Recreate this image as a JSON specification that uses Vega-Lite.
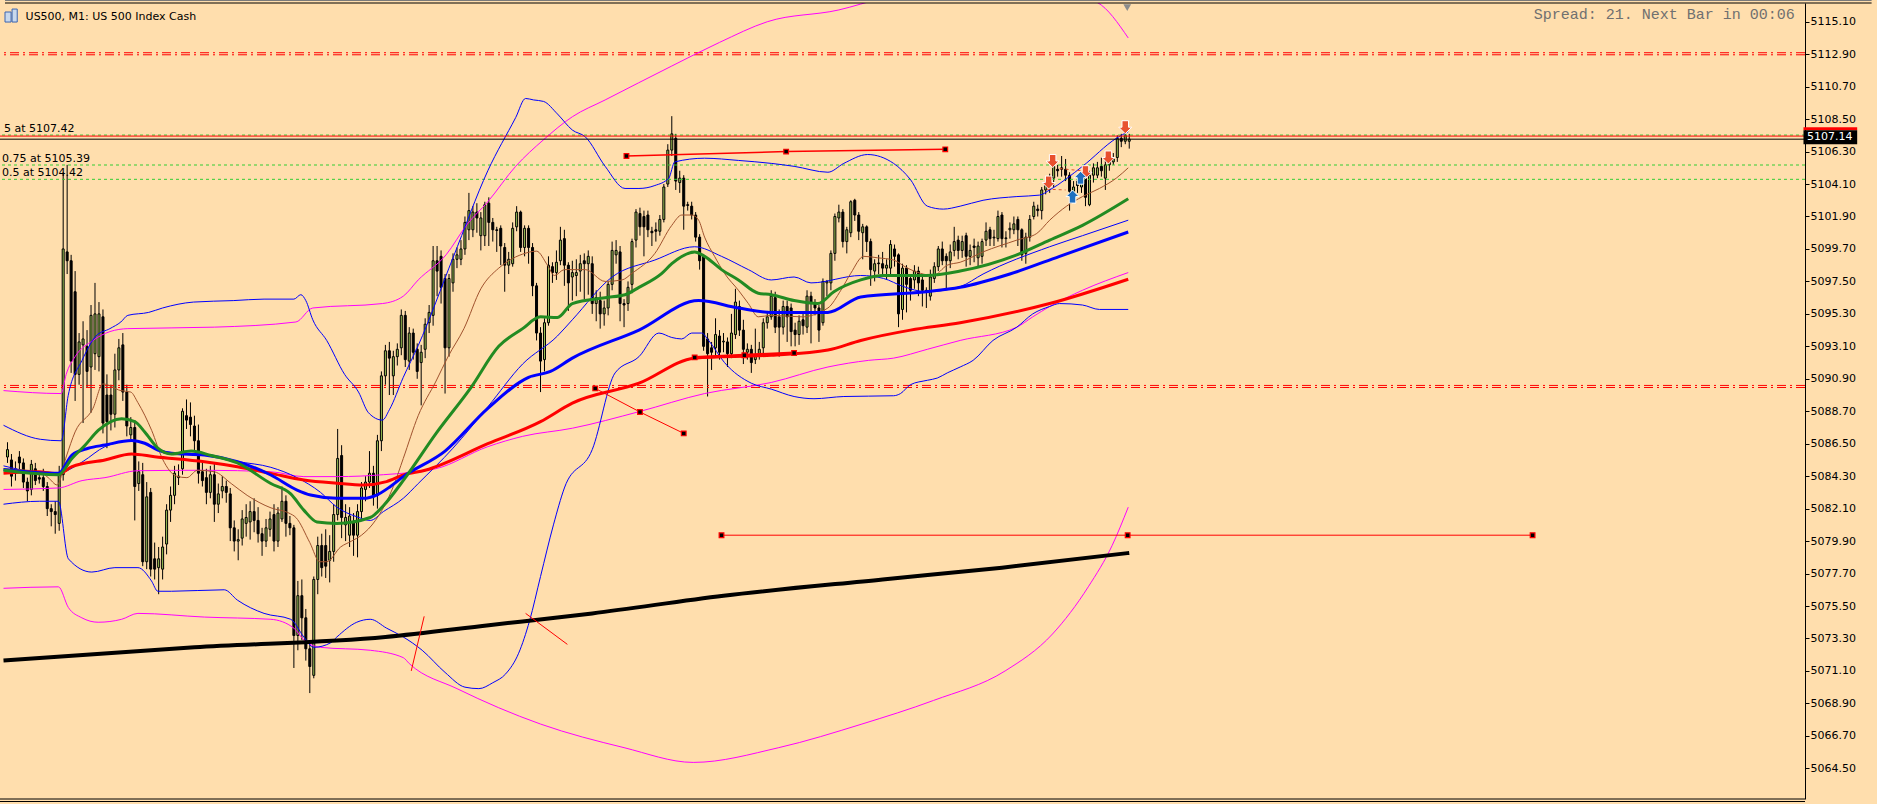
{
"$schema":"https://vega.github.io/schema/vega-lite/v6.json",
"width":1805,"height":796,
"autosize":{"type":"none"},
"padding":{"left":0,"top":3,"right":72,"bottom":5},
"background":"#FFDEAD",
"config":{"view":{"stroke":null},"axis":{"grid":false,"domain":true,"ticks":true,"domainColor":"#000000","domainWidth":1,"tickColor":"#000000","tickSize":4,"tickWidth":1,"labelColor":"#000000","labelFont":"DejaVu Sans","labelFontSize":11,"labelPadding":1,"labelFlush":false,"labelOverlap":false,"labelBaseline":"middle"}},
"datasets":{
"candles":[
{"i":0,"o":5085.6,"h":5086.6,"l":5085.2,"c":5086.1},
{"i":1,"o":5085.4,"h":5085.8,"l":5083.6,"c":5084.3},
{"i":2,"o":5084.5,"h":5085.3,"l":5084.0,"c":5084.8},
{"i":3,"o":5085.6,"h":5086.0,"l":5084.6,"c":5085.2},
{"i":4,"o":5085.2,"h":5085.5,"l":5083.5,"c":5083.9},
{"i":5,"o":5083.9,"h":5084.2,"l":5082.6,"c":5083.3},
{"i":6,"o":5083.4,"h":5085.4,"l":5083.0,"c":5085.1},
{"i":7,"o":5084.8,"h":5085.2,"l":5083.7,"c":5084.0},
{"i":8,"o":5084.2,"h":5084.6,"l":5083.8,"c":5084.1},
{"i":9,"o":5084.2,"h":5084.8,"l":5083.3,"c":5083.6},
{"i":10,"o":5083.6,"h":5083.9,"l":5081.6,"c":5082.1},
{"i":11,"o":5082.1,"h":5082.4,"l":5080.9,"c":5081.9},
{"i":12,"o":5081.9,"h":5082.6,"l":5080.4,"c":5081.7},
{"i":13,"o":5081.1,"h":5085.0,"l":5080.6,"c":5084.4},
{"i":14,"o":5084.4,"h":5104.9,"l":5084.0,"c":5099.7},
{"i":15,"o":5099.5,"h":5105.4,"l":5098.0,"c":5098.9},
{"i":16,"o":5098.9,"h":5099.3,"l":5091.3,"c":5092.1},
{"i":17,"o":5096.8,"h":5098.2,"l":5089.4,"c":5091.2},
{"i":18,"o":5091.2,"h":5094.0,"l":5090.5,"c":5093.4},
{"i":19,"o":5093.2,"h":5094.8,"l":5087.9,"c":5093.6},
{"i":20,"o":5093.1,"h":5094.2,"l":5090.3,"c":5091.4},
{"i":21,"o":5091.7,"h":5095.9,"l":5088.6,"c":5095.2},
{"i":22,"o":5092.6,"h":5097.4,"l":5091.5,"c":5095.3},
{"i":23,"o":5092.4,"h":5096.1,"l":5091.4,"c":5095.3},
{"i":24,"o":5095.1,"h":5095.6,"l":5087.2,"c":5087.9},
{"i":25,"o":5089.8,"h":5091.2,"l":5086.2,"c":5088.0},
{"i":26,"o":5089.8,"h":5090.5,"l":5087.4,"c":5088.5},
{"i":27,"o":5088.5,"h":5092.6,"l":5087.6,"c":5091.5},
{"i":28,"o":5091.5,"h":5093.6,"l":5090.8,"c":5093.0},
{"i":29,"o":5093.2,"h":5094.0,"l":5089.4,"c":5090.0},
{"i":30,"o":5090.0,"h":5090.5,"l":5087.0,"c":5087.7},
{"i":31,"o":5087.1,"h":5088.3,"l":5086.8,"c":5087.6},
{"i":32,"o":5087.6,"h":5088.1,"l":5081.3,"c":5083.6},
{"i":33,"o":5083.8,"h":5085.3,"l":5083.3,"c":5084.6},
{"i":34,"o":5084.4,"h":5085.2,"l":5078.2,"c":5078.5},
{"i":35,"o":5078.5,"h":5083.9,"l":5078.0,"c":5082.9},
{"i":36,"o":5083.2,"h":5083.5,"l":5077.5,"c":5078.0},
{"i":37,"o":5078.7,"h":5079.8,"l":5077.3,"c":5078.0},
{"i":38,"o":5078.1,"h":5079.5,"l":5076.3,"c":5078.7},
{"i":39,"o":5078.0,"h":5080.2,"l":5077.3,"c":5079.5},
{"i":40,"o":5079.7,"h":5082.4,"l":5079.0,"c":5082.0},
{"i":41,"o":5082.0,"h":5083.6,"l":5081.2,"c":5083.0},
{"i":42,"o":5083.0,"h":5085.0,"l":5082.4,"c":5084.5},
{"i":43,"o":5084.2,"h":5085.1,"l":5083.7,"c":5084.3},
{"i":44,"o":5084.8,"h":5088.9,"l":5084.4,"c":5088.7},
{"i":45,"o":5088.4,"h":5089.5,"l":5087.5,"c":5088.1},
{"i":46,"o":5088.3,"h":5089.3,"l":5087.0,"c":5087.8},
{"i":47,"o":5087.7,"h":5088.4,"l":5086.0,"c":5086.7},
{"i":48,"o":5086.7,"h":5087.8,"l":5083.8,"c":5084.5},
{"i":49,"o":5084.6,"h":5085.2,"l":5083.6,"c":5084.0},
{"i":50,"o":5084.2,"h":5084.8,"l":5082.4,"c":5083.2},
{"i":51,"o":5083.2,"h":5085.0,"l":5082.8,"c":5084.4},
{"i":52,"o":5084.4,"h":5085.2,"l":5081.2,"c":5082.4},
{"i":53,"o":5082.4,"h":5083.8,"l":5081.8,"c":5083.1},
{"i":54,"o":5083.3,"h":5084.3,"l":5082.8,"c":5083.6},
{"i":55,"o":5083.6,"h":5084.0,"l":5082.5,"c":5083.2},
{"i":56,"o":5083.1,"h":5083.5,"l":5079.9,"c":5080.8},
{"i":57,"o":5080.8,"h":5081.3,"l":5079.2,"c":5079.9},
{"i":58,"o":5079.9,"h":5080.7,"l":5078.6,"c":5080.0},
{"i":59,"o":5080.1,"h":5082.0,"l":5079.6,"c":5081.4},
{"i":60,"o":5081.1,"h":5082.4,"l":5080.2,"c":5081.5},
{"i":61,"o":5081.2,"h":5082.6,"l":5080.0,"c":5081.9},
{"i":62,"o":5081.9,"h":5082.8,"l":5080.5,"c":5081.3},
{"i":63,"o":5081.3,"h":5082.2,"l":5079.8,"c":5080.4},
{"i":64,"o":5080.4,"h":5080.8,"l":5078.9,"c":5079.9},
{"i":65,"o":5079.9,"h":5081.4,"l":5079.5,"c":5080.8},
{"i":66,"o":5080.7,"h":5081.9,"l":5080.2,"c":5081.4},
{"i":67,"o":5081.7,"h":5082.4,"l":5079.2,"c":5079.9},
{"i":68,"o":5079.9,"h":5082.2,"l":5079.5,"c":5081.8},
{"i":69,"o":5081.4,"h":5083.6,"l":5081.2,"c":5082.6},
{"i":70,"o":5082.6,"h":5083.0,"l":5080.2,"c":5081.1},
{"i":71,"o":5081.1,"h":5081.6,"l":5080.3,"c":5080.8},
{"i":72,"o":5080.8,"h":5081.0,"l":5071.3,"c":5073.5},
{"i":73,"o":5073.5,"h":5077.2,"l":5072.5,"c":5076.2},
{"i":74,"o":5076.2,"h":5077.3,"l":5073.2,"c":5074.7},
{"i":75,"o":5074.7,"h":5075.3,"l":5071.8,"c":5072.6},
{"i":76,"o":5072.6,"h":5073.0,"l":5069.6,"c":5071.4},
{"i":77,"o":5070.8,"h":5077.5,"l":5070.6,"c":5077.3},
{"i":78,"o":5077.3,"h":5080.2,"l":5076.3,"c":5079.6},
{"i":79,"o":5079.6,"h":5080.4,"l":5077.5,"c":5078.1},
{"i":80,"o":5079.6,"h":5080.7,"l":5077.4,"c":5078.2},
{"i":81,"o":5078.6,"h":5080.3,"l":5077.1,"c":5079.2},
{"i":82,"o":5079.2,"h":5082.4,"l":5078.5,"c":5081.7},
{"i":83,"o":5081.7,"h":5087.5,"l":5081.3,"c":5085.5},
{"i":84,"o":5085.7,"h":5086.4,"l":5080.1,"c":5081.5},
{"i":85,"o":5081.0,"h":5082.4,"l":5079.9,"c":5081.5},
{"i":86,"o":5080.3,"h":5082.2,"l":5079.5,"c":5081.6},
{"i":87,"o":5081.2,"h":5081.8,"l":5078.9,"c":5080.3},
{"i":88,"o":5080.3,"h":5082.4,"l":5078.8,"c":5081.9},
{"i":89,"o":5081.9,"h":5083.9,"l":5081.4,"c":5083.5},
{"i":90,"o":5083.4,"h":5084.3,"l":5082.6,"c":5083.9},
{"i":91,"o":5083.9,"h":5086.0,"l":5083.5,"c":5084.5},
{"i":92,"o":5084.5,"h":5085.0,"l":5082.3,"c":5082.9},
{"i":93,"o":5083.0,"h":5087.1,"l":5082.1,"c":5086.7},
{"i":94,"o":5086.7,"h":5091.4,"l":5086.0,"c":5091.1},
{"i":95,"o":5091.1,"h":5093.2,"l":5090.5,"c":5092.8},
{"i":96,"o":5092.8,"h":5093.4,"l":5089.8,"c":5092.3},
{"i":97,"o":5091.1,"h":5092.8,"l":5089.8,"c":5092.4},
{"i":98,"o":5092.4,"h":5093.3,"l":5091.8,"c":5092.9},
{"i":99,"o":5093.0,"h":5095.6,"l":5092.5,"c":5095.2},
{"i":100,"o":5095.2,"h":5095.5,"l":5091.7,"c":5092.2},
{"i":101,"o":5092.1,"h":5094.4,"l":5091.5,"c":5094.0},
{"i":102,"o":5094.0,"h":5094.3,"l":5092.2,"c":5092.7},
{"i":103,"o":5092.9,"h":5093.3,"l":5090.9,"c":5091.4},
{"i":104,"o":5092.0,"h":5093.2,"l":5089.1,"c":5092.7},
{"i":105,"o":5092.9,"h":5095.0,"l":5092.3,"c":5094.6},
{"i":106,"o":5094.7,"h":5095.9,"l":5094.0,"c":5095.4},
{"i":107,"o":5095.2,"h":5099.9,"l":5094.5,"c":5098.9},
{"i":108,"o":5098.9,"h":5099.9,"l":5096.5,"c":5098.2},
{"i":109,"o":5099.2,"h":5099.6,"l":5096.0,"c":5097.1},
{"i":110,"o":5097.7,"h":5098.0,"l":5089.9,"c":5093.0},
{"i":111,"o":5093.0,"h":5098.0,"l":5092.4,"c":5097.7},
{"i":112,"o":5097.4,"h":5099.4,"l":5096.8,"c":5099.0},
{"i":113,"o":5099.0,"h":5099.8,"l":5098.4,"c":5099.3},
{"i":114,"o":5099.0,"h":5100.3,"l":5098.6,"c":5099.7},
{"i":115,"o":5099.7,"h":5101.9,"l":5099.3,"c":5101.5},
{"i":116,"o":5101.0,"h":5103.5,"l":5100.3,"c":5102.3},
{"i":117,"o":5101.0,"h":5102.6,"l":5100.5,"c":5102.2},
{"i":118,"o":5102.2,"h":5102.8,"l":5100.8,"c":5101.8},
{"i":119,"o":5100.6,"h":5102.2,"l":5099.6,"c":5101.8},
{"i":120,"o":5100.6,"h":5102.9,"l":5099.9,"c":5102.7},
{"i":121,"o":5102.8,"h":5103.2,"l":5099.9,"c":5101.5},
{"i":122,"o":5101.5,"h":5101.8,"l":5100.2,"c":5101.0},
{"i":123,"o":5101.0,"h":5101.2,"l":5099.5,"c":5100.95},
{"i":124,"o":5101.1,"h":5101.3,"l":5098.6,"c":5099.9},
{"i":125,"o":5099.8,"h":5100.1,"l":5096.8,"c":5098.6},
{"i":126,"o":5098.6,"h":5099.5,"l":5098.0,"c":5099.0},
{"i":127,"o":5098.7,"h":5101.5,"l":5098.5,"c":5101.1},
{"i":128,"o":5101.2,"h":5102.6,"l":5100.9,"c":5102.2},
{"i":129,"o":5102.2,"h":5102.3,"l":5099.5,"c":5099.8},
{"i":130,"o":5099.8,"h":5101.3,"l":5099.2,"c":5101.1},
{"i":131,"o":5101.1,"h":5101.3,"l":5098.7,"c":5099.8},
{"i":132,"o":5099.8,"h":5100.1,"l":5096.5,"c":5097.2},
{"i":133,"o":5097.2,"h":5097.4,"l":5093.5,"c":5094.0},
{"i":134,"o":5094.0,"h":5094.4,"l":5090.0,"c":5092.1},
{"i":135,"o":5092.2,"h":5095.0,"l":5091.4,"c":5094.7},
{"i":136,"o":5094.7,"h":5099.2,"l":5094.5,"c":5098.6},
{"i":137,"o":5098.5,"h":5098.8,"l":5097.4,"c":5098.1},
{"i":138,"o":5098.1,"h":5099.6,"l":5097.6,"c":5098.8},
{"i":139,"o":5098.9,"h":5101.2,"l":5098.6,"c":5100.3},
{"i":140,"o":5100.4,"h":5101.0,"l":5097.2,"c":5098.6},
{"i":141,"o":5098.6,"h":5098.8,"l":5095.5,"c":5097.4},
{"i":142,"o":5097.8,"h":5098.9,"l":5096.2,"c":5098.1},
{"i":143,"o":5097.9,"h":5099.0,"l":5096.5,"c":5098.1},
{"i":144,"o":5098.2,"h":5099.3,"l":5096.8,"c":5098.7},
{"i":145,"o":5098.9,"h":5099.4,"l":5096.3,"c":5098.7},
{"i":146,"o":5098.7,"h":5099.6,"l":5096.6,"c":5099.2},
{"i":147,"o":5098.7,"h":5099.2,"l":5095.3,"c":5096.0},
{"i":148,"o":5096.0,"h":5096.9,"l":5094.8,"c":5096.4},
{"i":149,"o":5096.2,"h":5096.8,"l":5094.3,"c":5095.3},
{"i":150,"o":5095.3,"h":5096.2,"l":5094.5,"c":5095.7},
{"i":151,"o":5095.7,"h":5097.5,"l":5095.2,"c":5097.3},
{"i":152,"o":5097.3,"h":5100.2,"l":5096.9,"c":5099.6},
{"i":153,"o":5099.3,"h":5100.3,"l":5098.7,"c":5099.6},
{"i":154,"o":5099.5,"h":5099.9,"l":5094.8,"c":5096.0},
{"i":155,"o":5096.0,"h":5096.3,"l":5094.4,"c":5095.9},
{"i":156,"o":5096.0,"h":5097.5,"l":5095.5,"c":5097.1},
{"i":157,"o":5097.3,"h":5100.4,"l":5096.7,"c":5100.2},
{"i":158,"o":5100.3,"h":5102.4,"l":5099.8,"c":5102.2},
{"i":159,"o":5102.1,"h":5102.5,"l":5100.6,"c":5101.2},
{"i":160,"o":5101.9,"h":5102.3,"l":5099.2,"c":5101.2},
{"i":161,"o":5102.0,"h":5102.3,"l":5100.5,"c":5101.0},
{"i":162,"o":5100.9,"h":5101.2,"l":5099.9,"c":5100.8},
{"i":163,"o":5101.0,"h":5101.5,"l":5100.2,"c":5100.9},
{"i":164,"o":5100.9,"h":5102.0,"l":5100.6,"c":5101.7},
{"i":165,"o":5101.7,"h":5104.1,"l":5101.5,"c":5103.9},
{"i":166,"o":5104.1,"h":5106.8,"l":5103.9,"c":5106.4},
{"i":167,"o":5106.4,"h":5108.7,"l":5106.0,"c":5107.5},
{"i":168,"o":5107.2,"h":5107.5,"l":5103.7,"c":5104.3},
{"i":169,"o":5104.2,"h":5105.0,"l":5103.5,"c":5104.5},
{"i":170,"o":5104.5,"h":5104.7,"l":5101.0,"c":5102.6},
{"i":171,"o":5102.7,"h":5102.9,"l":5102.3,"c":5102.65},
{"i":172,"o":5102.6,"h":5102.9,"l":5101.7,"c":5102.0},
{"i":173,"o":5102.0,"h":5102.2,"l":5100.2,"c":5100.5},
{"i":174,"o":5100.5,"h":5100.7,"l":5098.3,"c":5098.9},
{"i":175,"o":5099.2,"h":5099.3,"l":5092.8,"c":5093.1},
{"i":176,"o":5093.6,"h":5094.0,"l":5089.7,"c":5092.6},
{"i":177,"o":5093.0,"h":5093.4,"l":5091.5,"c":5092.7},
{"i":178,"o":5093.0,"h":5095.0,"l":5092.5,"c":5093.9},
{"i":179,"o":5093.8,"h":5094.2,"l":5092.2,"c":5092.7},
{"i":180,"o":5093.4,"h":5094.0,"l":5092.7,"c":5093.45},
{"i":181,"o":5093.4,"h":5093.7,"l":5091.7,"c":5092.6},
{"i":182,"o":5092.6,"h":5095.3,"l":5092.3,"c":5094.0},
{"i":183,"o":5093.9,"h":5097.0,"l":5093.6,"c":5096.1},
{"i":184,"o":5095.8,"h":5096.2,"l":5093.8,"c":5094.2},
{"i":185,"o":5094.2,"h":5094.9,"l":5091.9,"c":5092.9},
{"i":186,"o":5092.7,"h":5093.3,"l":5092.2,"c":5092.9},
{"i":187,"o":5092.9,"h":5093.2,"l":5091.3,"c":5092.0},
{"i":188,"o":5092.2,"h":5094.3,"l":5091.9,"c":5092.5},
{"i":189,"o":5092.5,"h":5093.4,"l":5092.2,"c":5092.9},
{"i":190,"o":5093.0,"h":5095.0,"l":5092.6,"c":5094.7},
{"i":191,"o":5094.7,"h":5095.5,"l":5094.3,"c":5095.1},
{"i":192,"o":5095.1,"h":5096.9,"l":5094.9,"c":5096.5},
{"i":193,"o":5096.4,"h":5096.8,"l":5094.0,"c":5094.4},
{"i":194,"o":5095.1,"h":5095.6,"l":5092.4,"c":5094.4},
{"i":195,"o":5094.4,"h":5096.2,"l":5093.9,"c":5095.8},
{"i":196,"o":5095.8,"h":5096.2,"l":5093.4,"c":5095.1},
{"i":197,"o":5095.7,"h":5096.0,"l":5093.1,"c":5094.1},
{"i":198,"o":5094.2,"h":5094.7,"l":5093.1,"c":5093.9},
{"i":199,"o":5093.9,"h":5095.2,"l":5093.2,"c":5094.8},
{"i":200,"o":5094.9,"h":5095.3,"l":5093.9,"c":5094.5},
{"i":201,"o":5094.4,"h":5096.9,"l":5094.0,"c":5096.5},
{"i":202,"o":5096.5,"h":5096.8,"l":5093.3,"c":5096.1},
{"i":203,"o":5096.0,"h":5096.3,"l":5095.2,"c":5095.7},
{"i":204,"o":5095.7,"h":5095.9,"l":5093.4,"c":5094.2},
{"i":205,"o":5094.7,"h":5097.7,"l":5094.5,"c":5097.5},
{"i":206,"o":5097.4,"h":5097.6,"l":5096.5,"c":5097.5},
{"i":207,"o":5097.4,"h":5099.6,"l":5096.9,"c":5099.4},
{"i":208,"o":5099.4,"h":5102.1,"l":5098.9,"c":5101.9},
{"i":209,"o":5101.8,"h":5102.7,"l":5101.5,"c":5102.2},
{"i":210,"o":5102.2,"h":5102.4,"l":5099.8,"c":5100.2},
{"i":211,"o":5100.2,"h":5101.2,"l":5099.4,"c":5101.0},
{"i":212,"o":5100.8,"h":5103.0,"l":5100.5,"c":5102.9},
{"i":213,"o":5103.0,"h":5103.1,"l":5101.6,"c":5102.0},
{"i":214,"o":5102.0,"h":5102.2,"l":5100.3,"c":5100.9},
{"i":215,"o":5100.8,"h":5101.4,"l":5099.0,"c":5101.2},
{"i":216,"o":5101.2,"h":5101.3,"l":5099.5,"c":5100.2},
{"i":217,"o":5100.2,"h":5100.4,"l":5097.2,"c":5098.3},
{"i":218,"o":5098.2,"h":5099.0,"l":5097.5,"c":5098.7},
{"i":219,"o":5098.75,"h":5099.3,"l":5098.0,"c":5098.7},
{"i":220,"o":5098.7,"h":5099.5,"l":5097.9,"c":5098.4},
{"i":221,"o":5098.4,"h":5099.0,"l":5097.6,"c":5098.6},
{"i":222,"o":5098.4,"h":5100.3,"l":5097.8,"c":5100.0},
{"i":223,"o":5099.7,"h":5100.0,"l":5098.5,"c":5099.2},
{"i":224,"o":5099.3,"h":5099.4,"l":5094.4,"c":5095.3},
{"i":225,"o":5095.6,"h":5098.7,"l":5094.9,"c":5098.4},
{"i":226,"o":5098.4,"h":5098.6,"l":5095.4,"c":5097.3},
{"i":227,"o":5097.7,"h":5098.0,"l":5096.2,"c":5096.9},
{"i":228,"o":5097.6,"h":5098.6,"l":5097.0,"c":5098.2},
{"i":229,"o":5098.2,"h":5098.5,"l":5096.5,"c":5097.4},
{"i":230,"o":5097.6,"h":5097.8,"l":5095.8,"c":5096.9},
{"i":231,"o":5096.9,"h":5097.1,"l":5095.7,"c":5096.8},
{"i":232,"o":5096.5,"h":5098.3,"l":5096.2,"c":5097.8},
{"i":233,"o":5097.7,"h":5098.8,"l":5097.4,"c":5098.5},
{"i":234,"o":5098.5,"h":5099.9,"l":5098.2,"c":5099.7},
{"i":235,"o":5099.7,"h":5100.2,"l":5098.6,"c":5098.9},
{"i":236,"o":5099.2,"h":5099.4,"l":5097.0,"c":5098.9},
{"i":237,"o":5098.9,"h":5100.0,"l":5098.4,"c":5099.5},
{"i":238,"o":5099.6,"h":5101.2,"l":5099.2,"c":5100.2},
{"i":239,"o":5100.3,"h":5100.6,"l":5099.0,"c":5099.6},
{"i":240,"o":5099.6,"h":5100.6,"l":5099.1,"c":5100.2},
{"i":241,"o":5100.6,"h":5100.8,"l":5098.5,"c":5099.2},
{"i":242,"o":5099.2,"h":5100.0,"l":5098.6,"c":5099.6},
{"i":243,"o":5099.9,"h":5100.4,"l":5098.8,"c":5099.8},
{"i":244,"o":5099.1,"h":5100.2,"l":5098.5,"c":5099.9},
{"i":245,"o":5099.2,"h":5100.4,"l":5098.7,"c":5100.2},
{"i":246,"o":5100.3,"h":5101.5,"l":5099.9,"c":5100.9},
{"i":247,"o":5101.0,"h":5101.2,"l":5099.9,"c":5100.4},
{"i":248,"o":5100.45,"h":5101.0,"l":5099.9,"c":5100.5},
{"i":249,"o":5100.4,"h":5102.3,"l":5100.2,"c":5101.9},
{"i":250,"o":5102.0,"h":5102.2,"l":5099.8,"c":5100.4},
{"i":251,"o":5100.4,"h":5100.9,"l":5099.8,"c":5100.45},
{"i":252,"o":5101.0,"h":5101.5,"l":5100.4,"c":5101.1},
{"i":253,"o":5101.0,"h":5101.9,"l":5100.7,"c":5101.4},
{"i":254,"o":5101.7,"h":5101.9,"l":5099.9,"c":5101.0},
{"i":255,"o":5101.0,"h":5101.1,"l":5098.9,"c":5099.3},
{"i":256,"o":5099.4,"h":5100.8,"l":5098.7,"c":5100.5},
{"i":257,"o":5100.5,"h":5102.0,"l":5100.2,"c":5101.7},
{"i":258,"o":5101.9,"h":5102.9,"l":5101.7,"c":5102.6},
{"i":259,"o":5102.4,"h":5102.7,"l":5101.9,"c":5102.3},
{"i":260,"o":5102.3,"h":5103.9,"l":5101.7,"c":5103.7},
{"i":261,"o":5103.7,"h":5104.3,"l":5103.4,"c":5104.0},
{"i":262,"o":5104.0,"h":5104.8,"l":5103.5,"c":5104.4},
{"i":263,"o":5104.5,"h":5105.5,"l":5103.9,"c":5105.3},
{"i":264,"o":5105.1,"h":5105.4,"l":5104.6,"c":5105.0},
{"i":265,"o":5105.2,"h":5106.0,"l":5104.6,"c":5105.1},
{"i":266,"o":5105.1,"h":5105.8,"l":5104.3,"c":5104.7},
{"i":267,"o":5104.7,"h":5104.9,"l":5102.3,"c":5103.6},
{"i":268,"o":5103.6,"h":5104.3,"l":5102.9,"c":5103.9},
{"i":269,"o":5104.3,"h":5104.7,"l":5103.5,"c":5104.0},
{"i":270,"o":5103.9,"h":5104.6,"l":5103.5,"c":5104.3},
{"i":271,"o":5104.6,"h":5104.8,"l":5102.6,"c":5103.2},
{"i":272,"o":5102.7,"h":5105.0,"l":5102.6,"c":5104.7},
{"i":273,"o":5104.7,"h":5105.5,"l":5104.2,"c":5105.2},
{"i":274,"o":5104.7,"h":5105.6,"l":5104.5,"c":5105.2},
{"i":275,"o":5105.3,"h":5105.9,"l":5104.6,"c":5105.0},
{"i":276,"o":5104.5,"h":5105.8,"l":5103.7,"c":5105.4},
{"i":277,"o":5105.4,"h":5106.0,"l":5105.0,"c":5105.6},
{"i":278,"o":5105.6,"h":5106.2,"l":5105.4,"c":5105.8},
{"i":279,"o":5105.9,"h":5107.4,"l":5105.6,"c":5107.2},
{"i":280,"o":5107.2,"h":5107.5,"l":5106.6,"c":5107.0},
{"i":281,"o":5107.0,"h":5107.8,"l":5106.8,"c":5107.4},
{"i":282,"o":5107.0,"h":5107.5,"l":5106.5,"c":5107.14}
],
"ma_black":[{"i":-1,"v":5071.8},{"i":47,"v":5072.7},{"i":95,"v":5073.4},{"i":121,"v":5074.2},{"i":147,"v":5075.0},{"i":180,"v":5076.2},{"i":220,"v":5077.3},{"i":250,"v":5078.1},{"i":282,"v":5079.1}],
"ma_red":[{"i":-1,"v":5084.5},{"i":7.8,"v":5084.6},{"i":12.8,"v":5084.45},{"i":16.2,"v":5084.94},{"i":24.5,"v":5085.4},{"i":31.2,"v":5085.8},{"i":37,"v":5085.62},{"i":49.5,"v":5085.28},{"i":57.8,"v":5084.94},{"i":66.2,"v":5084.49},{"i":74.5,"v":5084.04},{"i":82.8,"v":5083.82},{"i":89.5,"v":5083.7},{"i":95.3,"v":5083.93},{"i":99.5,"v":5084.38},{"i":105,"v":5084.7},{"i":120.75,"v":5086.5},{"i":134,"v":5088.0},{"i":142,"v":5089.25},{"i":158.75,"v":5090.6},{"i":172.75,"v":5092.3},{"i":192,"v":5092.5},{"i":206.25,"v":5092.85},{"i":214.5,"v":5093.5},{"i":227,"v":5094.2},{"i":239.5,"v":5094.7},{"i":262,"v":5096.0},{"i":281.75,"v":5097.65}],
"ma_blue":[{"i":-1,"v":5084.76},{"i":12.8,"v":5084.49},{"i":16.2,"v":5085.73},{"i":20.3,"v":5086.19},{"i":24.5,"v":5086.41},{"i":31.2,"v":5086.71},{"i":34.5,"v":5086.53},{"i":37.8,"v":5086.07},{"i":41.2,"v":5085.85},{"i":49.5,"v":5085.73},{"i":57.8,"v":5085.28},{"i":66.2,"v":5084.38},{"i":72.8,"v":5083.36},{"i":76.2,"v":5083.02},{"i":82.8,"v":5082.8},{"i":89.5,"v":5082.8},{"i":92.8,"v":5083.02},{"i":96.2,"v":5083.59},{"i":99.5,"v":5084.27},{"i":110,"v":5086.0},{"i":120.75,"v":5088.9},{"i":131,"v":5091.0},{"i":136.5,"v":5091.4},{"i":142,"v":5092.3},{"i":158.75,"v":5094.2},{"i":173.75,"v":5096.2},{"i":183.75,"v":5095.7},{"i":192,"v":5095.4},{"i":206.25,"v":5095.4},{"i":214.5,"v":5096.45},{"i":231,"v":5096.8},{"i":239.5,"v":5097.1},{"i":252,"v":5098.0},{"i":264.5,"v":5099.2},{"i":281.75,"v":5100.85}],
"ma_green":[{"i":-1,"v":5084.7},{"i":12.8,"v":5084.4},{"i":16.2,"v":5085.5},{"i":19.5,"v":5086.4},{"i":22.8,"v":5087.4},{"i":28.7,"v":5088.2},{"i":32,"v":5088.0},{"i":34.5,"v":5087.3},{"i":37.8,"v":5086.2},{"i":41.2,"v":5085.8},{"i":46.2,"v":5086.0},{"i":51.2,"v":5085.7},{"i":57.8,"v":5085.2},{"i":66.2,"v":5083.8},{"i":71.2,"v":5083.1},{"i":74.5,"v":5082.0},{"i":77.8,"v":5081.2},{"i":82.8,"v":5081.1},{"i":91.2,"v":5081.5},{"i":94.5,"v":5082.3},{"i":99.75,"v":5084.1},{"i":107.75,"v":5087.2},{"i":116.5,"v":5090.3},{"i":123.5,"v":5093.1},{"i":129.5,"v":5094.3},{"i":134,"v":5095.1},{"i":138.25,"v":5095.05},{"i":142,"v":5096.0},{"i":150.25,"v":5096.4},{"i":155.25,"v":5096.6},{"i":158.75,"v":5097.1},{"i":164.5,"v":5098.05},{"i":167,"v":5098.7},{"i":172.75,"v":5099.5},{"i":175.25,"v":5099.2},{"i":179.5,"v":5098.3},{"i":183.75,"v":5097.6},{"i":188.75,"v":5096.7},{"i":192,"v":5096.6},{"i":197.75,"v":5096.2},{"i":203.75,"v":5096.0},{"i":207.75,"v":5096.8},{"i":214.5,"v":5097.6},{"i":220.25,"v":5097.9},{"i":231,"v":5097.9},{"i":239.5,"v":5098.2},{"i":253.75,"v":5099.3},{"i":262,"v":5100.3},{"i":270.25,"v":5101.3},{"i":281.75,"v":5103.1}],
"bb_mid":[{"i":-1,"v":5085.0},{"i":12.8,"v":5084.4},{"i":14.5,"v":5084.6},{"i":19,"v":5085.3},{"i":24.5,"v":5086.3},{"i":31.2,"v":5086.7},{"i":34.5,"v":5086.5},{"i":41.2,"v":5085.9},{"i":49.5,"v":5085.8},{"i":57.8,"v":5085.3},{"i":66.2,"v":5084.9},{"i":72.8,"v":5084.2},{"i":78.7,"v":5083.2},{"i":82.8,"v":5082.2},{"i":87.8,"v":5081.55},{"i":91.2,"v":5081.3},{"i":94.5,"v":5081.9},{"i":99.5,"v":5082.8},{"i":103.25,"v":5083.8},{"i":112,"v":5086.2},{"i":120.75,"v":5089.0},{"i":129.5,"v":5091.9},{"i":138.25,"v":5093.8},{"i":142,"v":5094.9},{"i":152,"v":5097.8},{"i":162.75,"v":5098.95},{"i":172.75,"v":5099.85},{"i":179.5,"v":5099.2},{"i":186.25,"v":5098.3},{"i":192,"v":5097.6},{"i":197.75,"v":5097.8},{"i":202,"v":5097.4},{"i":214.5,"v":5097.9},{"i":220.25,"v":5097.7},{"i":225.25,"v":5097.15},{"i":231,"v":5096.8},{"i":239.5,"v":5097.15},{"i":245.25,"v":5098.0},{"i":262,"v":5099.85},{"i":270.25,"v":5100.6},{"i":281.75,"v":5101.65}],
"bb_up":[{"i":-1,"v":5087.75},{"i":8.25,"v":5086.8},{"i":13.5,"v":5086.7},{"i":15.25,"v":5089.75},{"i":18.75,"v":5092.15},{"i":22.25,"v":5093.8},{"i":25.75,"v":5094.3},{"i":28.5,"v":5094.75},{"i":30.25,"v":5095.2},{"i":35.5,"v":5095.4},{"i":39,"v":5095.7},{"i":46.75,"v":5096.1},{"i":56.75,"v":5096.2},{"i":64.5,"v":5096.3},{"i":72,"v":5096.3},{"i":73.75,"v":5096.6},{"i":75,"v":5096.2},{"i":76.75,"v":5094.9},{"i":80.25,"v":5093.5},{"i":84.75,"v":5091.2},{"i":88.25,"v":5090.0},{"i":90.75,"v":5088.6},{"i":94.25,"v":5088.1},{"i":96,"v":5088.8},{"i":99.5,"v":5091.0},{"i":103.25,"v":5093.15},{"i":112,"v":5099.1},{"i":120.75,"v":5105.0},{"i":127.75,"v":5108.6},{"i":130.25,"v":5109.9},{"i":132.25,"v":5109.8},{"i":134.75,"v":5109.7},{"i":138.25,"v":5108.85},{"i":142,"v":5107.76},{"i":145.25,"v":5107.3},{"i":150.25,"v":5105.3},{"i":155.25,"v":5103.8},{"i":158.75,"v":5103.8},{"i":162.75,"v":5104.0},{"i":166.25,"v":5104.5},{"i":167.75,"v":5105.6},{"i":175.25,"v":5105.85},{"i":183.75,"v":5105.7},{"i":192,"v":5105.5},{"i":197.75,"v":5105.3},{"i":206.25,"v":5104.9},{"i":210.25,"v":5105.5},{"i":216.25,"v":5106.1},{"i":222.75,"v":5105.5},{"i":227,"v":5104.4},{"i":231.25,"v":5102.6},{"i":235.25,"v":5102.4},{"i":239.5,"v":5102.6},{"i":245.25,"v":5103.0},{"i":253.75,"v":5103.25},{"i":259.5,"v":5103.35},{"i":262,"v":5103.7},{"i":270.25,"v":5105.3},{"i":278.75,"v":5107.2},{"i":281.75,"v":5107.65}],
"bb_lo":[{"i":-1,"v":5082.4},{"i":8,"v":5082.6},{"i":12.8,"v":5082.6},{"i":15.3,"v":5078.7},{"i":21.2,"v":5077.8},{"i":27,"v":5078.1},{"i":32.8,"v":5078.1},{"i":36.2,"v":5077.2},{"i":37.8,"v":5076.5},{"i":41.2,"v":5076.5},{"i":54.5,"v":5076.6},{"i":57.8,"v":5075.9},{"i":64.5,"v":5075.0},{"i":71.2,"v":5074.6},{"i":74.5,"v":5073.4},{"i":77,"v":5072.7},{"i":81.2,"v":5073.0},{"i":82.8,"v":5073.4},{"i":87.8,"v":5074.4},{"i":91.2,"v":5074.6},{"i":95.3,"v":5074.0},{"i":99.5,"v":5073.4},{"i":104.25,"v":5072.5},{"i":110,"v":5071.0},{"i":115,"v":5070.0},{"i":118.5,"v":5069.9},{"i":122,"v":5070.3},{"i":125.25,"v":5070.9},{"i":128.5,"v":5072.3},{"i":131.25,"v":5074.5},{"i":134,"v":5077.5},{"i":137.25,"v":5081.0},{"i":140,"v":5083.5},{"i":147,"v":5086.1},{"i":152.75,"v":5091.3},{"i":158.75,"v":5092.4},{"i":163.75,"v":5094.0},{"i":167,"v":5093.7},{"i":169.5,"v":5093.6},{"i":172,"v":5094.0},{"i":174.5,"v":5094.0},{"i":176.25,"v":5093.5},{"i":180.25,"v":5092.0},{"i":187,"v":5090.6},{"i":192,"v":5090.2},{"i":197.75,"v":5089.7},{"i":202.75,"v":5089.55},{"i":210.25,"v":5089.7},{"i":222.75,"v":5089.75},{"i":224.5,"v":5089.9},{"i":227,"v":5090.5},{"i":231.25,"v":5090.8},{"i":233.75,"v":5090.95},{"i":236.25,"v":5091.3},{"i":239.5,"v":5091.7},{"i":242.75,"v":5092.15},{"i":247.75,"v":5093.5},{"i":253.75,"v":5094.4},{"i":257.75,"v":5095.3},{"i":262,"v":5095.8},{"i":264.5,"v":5096.0},{"i":270.25,"v":5095.9},{"i":274.5,"v":5095.6},{"i":281.75,"v":5095.6}],
"mg_up":[{"i":-1,"v":5090.1},{"i":13.5,"v":5089.9},{"i":14.75,"v":5091.2},{"i":17,"v":5092.4},{"i":21.5,"v":5093.5},{"i":25.75,"v":5094.1},{"i":30.25,"v":5094.3},{"i":52,"v":5094.4},{"i":72.5,"v":5094.75},{"i":76.75,"v":5095.7},{"i":94.25,"v":5096.0},{"i":99.5,"v":5096.5},{"i":103.25,"v":5097.6},{"i":110.25,"v":5099.3},{"i":115.5,"v":5101.35},{"i":120.75,"v":5102.9},{"i":127.75,"v":5105.3},{"i":134.75,"v":5107.1},{"i":142,"v":5108.66},{"i":150.25,"v":5109.8},{"i":167,"v":5112.1},{"i":179,"v":5113.7},{"i":191,"v":5115.1},{"i":209,"v":5115.9},{"i":220,"v":5116.7},{"i":240,"v":5117.6},{"i":260,"v":5117.4},{"i":274,"v":5116.4},{"i":281.75,"v":5114.0}],
"mg_mid":[{"i":-1,"v":5083.4},{"i":12.8,"v":5083.5},{"i":18.75,"v":5084.0},{"i":24.5,"v":5084.2},{"i":32.8,"v":5084.67},{"i":49.5,"v":5084.7},{"i":66.2,"v":5084.6},{"i":74.5,"v":5084.27},{"i":82.8,"v":5084.27},{"i":94.5,"v":5084.4},{"i":107.6,"v":5084.8},{"i":120.75,"v":5086.3},{"i":129.5,"v":5087.0},{"i":142,"v":5087.55},{"i":158.75,"v":5088.67},{"i":175.25,"v":5089.9},{"i":192,"v":5090.65},{"i":206.25,"v":5091.7},{"i":216.5,"v":5092.15},{"i":222.75,"v":5092.3},{"i":231.25,"v":5092.9},{"i":239.5,"v":5093.5},{"i":253.75,"v":5094.4},{"i":257.75,"v":5095.1},{"i":262,"v":5095.8},{"i":270.25,"v":5096.9},{"i":281.75,"v":5098.1}],
"mg_lo":[{"i":-1,"v":5076.7},{"i":12.8,"v":5076.8},{"i":15.3,"v":5075.4},{"i":18.7,"v":5074.7},{"i":22.8,"v":5074.4},{"i":28.7,"v":5074.6},{"i":32.8,"v":5075.0},{"i":49.5,"v":5074.75},{"i":66.2,"v":5074.6},{"i":72,"v":5074.0},{"i":74.5,"v":5073.2},{"i":78.7,"v":5072.7},{"i":91.2,"v":5072.5},{"i":99.5,"v":5072.0},{"i":101,"v":5071.6},{"i":113,"v":5069.9},{"i":134,"v":5067.5},{"i":155,"v":5065.9},{"i":172.4,"v":5064.9},{"i":193.9,"v":5065.9},{"i":214.8,"v":5067.5},{"i":232.8,"v":5069.1},{"i":250.8,"v":5071.1},{"i":262.7,"v":5073.6},{"i":271.7,"v":5076.8},{"i":277.7,"v":5079.6},{"i":281.75,"v":5082.2}],
"brown":[{"i":-1,"v":5084.8},{"i":8,"v":5084.6},{"i":10.25,"v":5084.2},{"i":12.5,"v":5083.7},{"i":14.75,"v":5085.6},{"i":17,"v":5087.3},{"i":21.5,"v":5088.9},{"i":24,"v":5090.55},{"i":28.5,"v":5090.1},{"i":31,"v":5090.0},{"i":32.75,"v":5089.3},{"i":36.25,"v":5087.4},{"i":39,"v":5085.45},{"i":42.5,"v":5084.3},{"i":45.1,"v":5084.2},{"i":47.75,"v":5084.7},{"i":52,"v":5084.6},{"i":56.25,"v":5083.8},{"i":60.25,"v":5083.0},{"i":66.25,"v":5082.15},{"i":70.75,"v":5081.8},{"i":72.5,"v":5081.5},{"i":76,"v":5079.8},{"i":78.5,"v":5078.5},{"i":80.25,"v":5078.5},{"i":83.75,"v":5079.5},{"i":86.5,"v":5079.9},{"i":89,"v":5080.3},{"i":92.5,"v":5081.3},{"i":97,"v":5083.6},{"i":99.5,"v":5085.5},{"i":103.25,"v":5088.4},{"i":107.75,"v":5090.75},{"i":110.75,"v":5092.4},{"i":114.75,"v":5094.3},{"i":119,"v":5097.0},{"i":123.5,"v":5098.4},{"i":126,"v":5098.9},{"i":129.5,"v":5099.35},{"i":133,"v":5099.55},{"i":135.75,"v":5098.6},{"i":137.5,"v":5097.9},{"i":140,"v":5098.3},{"i":145.25,"v":5098.3},{"i":150.25,"v":5097.5},{"i":154.5,"v":5097.6},{"i":157,"v":5098.05},{"i":162.75,"v":5099.4},{"i":167,"v":5101.3},{"i":169.5,"v":5102.0},{"i":172,"v":5102.0},{"i":173.75,"v":5101.65},{"i":175.25,"v":5100.5},{"i":177.75,"v":5099.2},{"i":180.25,"v":5098.05},{"i":183.75,"v":5096.9},{"i":186.25,"v":5096.0},{"i":188.75,"v":5095.1},{"i":192,"v":5095.2},{"i":199.5,"v":5095.1},{"i":206.25,"v":5095.7},{"i":209.5,"v":5096.9},{"i":212,"v":5098.05},{"i":215.25,"v":5099.2},{"i":218.75,"v":5099.1},{"i":222.75,"v":5098.95},{"i":226.25,"v":5098.4},{"i":229.5,"v":5098.05},{"i":232.75,"v":5097.9},{"i":236.25,"v":5098.6},{"i":239.5,"v":5098.8},{"i":245.25,"v":5099.5},{"i":253.75,"v":5100.3},{"i":258.75,"v":5100.75},{"i":262,"v":5101.65},{"i":266.25,"v":5102.6},{"i":270.25,"v":5103.25},{"i":274.5,"v":5103.8},{"i":278.75,"v":5104.5},{"i":281.75,"v":5105.2}],
"obj_top":[{"i":155.6,"v":5106.0},{"i":195.75,"v":5106.3},{"i":235.75,"v":5106.45}],
"obj_ma":[{"i":172.75,"v":5092.35},{"i":185.25,"v":5092.5},{"i":197.75,"v":5092.65}],
"obj_diag":[{"i":147.75,"v":5090.25},{"i":159,"v":5088.65},{"i":170,"v":5087.2}],
"obj_h":[{"i":179.5,"v":5080.3},{"i":281.6,"v":5080.3},{"i":383.4,"v":5080.3}],
"cross1":[{"i":104.75,"v":5074.8},{"i":101.5,"v":5071.1}],
"cross2":[{"i":130.25,"v":5075.0},{"i":140.75,"v":5072.9}],
"dash1":[{"i":261.25,"v":5103.75},{"i":266,"v":5103.7}],
"dash2":[{"i":264.5,"v":5105.15},{"i":270,"v":5105.0}],
"arr_dn":[{"i":261.75,"v":5104.2},{"i":262.75,"v":5105.66},{"i":271,"v":5104.9},{"i":276.75,"v":5105.9},{"i":281,"v":5107.95}],
"arr_up":[{"i":267.75,"v":5103.25},{"i":269.75,"v":5104.53}]
},
"layer":[
{"data":{"name":"candles"},"mark":{"type":"rule","color":"#000000","strokeWidth":1},"encoding":{
 "x":{"field":"i","type":"quantitative","scale":{"domain":[-0.625,450.625],"nice":false,"zero":false},"axis":null},
 "y":{"field":"l","type":"quantitative","scale":{"domain":[5062.42,5116.37],"nice":false,"zero":false},"axis":{"orient":"right","title":null,"format":".2f","values":[5064.5,5066.7,5068.9,5071.1,5073.3,5075.5,5077.7,5079.9,5082.1,5084.3,5086.5,5088.7,5090.9,5093.1,5095.3,5097.5,5099.7,5101.9,5104.1,5106.3,5108.5,5110.7,5112.9,5115.1]}},
 "y2":{"field":"h"}}},
{"data":{"name":"candles"},"mark":{"type":"bar","width":2,"stroke":"#000000","strokeWidth":1},"encoding":{
 "x":{"field":"i","type":"quantitative","scale":{"domain":[-0.625,450.625],"nice":false,"zero":false},"axis":null},
 "y":{"field":"o","type":"quantitative","scale":{"domain":[5062.42,5116.37],"nice":false,"zero":false},"axis":{"orient":"right","title":null,"format":".2f","values":[5064.5,5066.7,5068.9,5071.1,5073.3,5075.5,5077.7,5079.9,5082.1,5084.3,5086.5,5088.7,5090.9,5093.1,5095.3,5097.5,5099.7,5101.9,5104.1,5106.3,5108.5,5110.7,5112.9,5115.1]}},
 "y2":{"field":"c"},
 "fill":{"condition":{"test":"datum.c >= datum.o","value":"#9CC455"},"value":"#000000"}}},
{"data":{"values":[{"v":5107.42},{"v":5105.39},{"v":5104.42}]},"mark":{"type":"rule","color":"#32CD32","strokeWidth":1,"strokeDash":[3,3]},"encoding":{"y":{"field":"v","type":"quantitative","scale":{"domain":[5062.42,5116.37],"nice":false,"zero":false},"axis":{"orient":"right","title":null,"format":".2f","values":[5064.5,5066.7,5068.9,5071.1,5073.3,5075.5,5077.7,5079.9,5082.1,5084.3,5086.5,5088.7,5090.9,5093.1,5095.3,5097.5,5099.7,5101.9,5104.1,5106.3,5108.5,5110.7,5112.9,5115.1]}}}},
{"data":{"values":[{"v":5113.0},{"v":5112.86},{"v":5090.45},{"v":5090.31}]},"mark":{"type":"rule","color":"#FF0000","strokeWidth":1,"strokeDash":[9,4,2,4]},"encoding":{"y":{"field":"v","type":"quantitative","scale":{"domain":[5062.42,5116.37],"nice":false,"zero":false},"axis":{"orient":"right","title":null,"format":".2f","values":[5064.5,5066.7,5068.9,5071.1,5073.3,5075.5,5077.7,5079.9,5082.1,5084.3,5086.5,5088.7,5090.9,5093.1,5095.3,5097.5,5099.7,5101.9,5104.1,5106.3,5108.5,5110.7,5112.9,5115.1]}}}},
{"data":{"name":"mg_up"},"mark":{"type":"line","color":"#FF00FF","strokeWidth":1,"interpolate":"monotone","clip":true},"encoding":{"x":{"field":"i","type":"quantitative","scale":{"domain":[-0.625,450.625],"nice":false,"zero":false},"axis":null},"y":{"field":"v","type":"quantitative","scale":{"domain":[5062.42,5116.37],"nice":false,"zero":false},"axis":{"orient":"right","title":null,"format":".2f","values":[5064.5,5066.7,5068.9,5071.1,5073.3,5075.5,5077.7,5079.9,5082.1,5084.3,5086.5,5088.7,5090.9,5093.1,5095.3,5097.5,5099.7,5101.9,5104.1,5106.3,5108.5,5110.7,5112.9,5115.1]}}}},
{"data":{"name":"mg_mid"},"mark":{"type":"line","color":"#FF00FF","strokeWidth":1,"interpolate":"monotone","clip":true},"encoding":{"x":{"field":"i","type":"quantitative","scale":{"domain":[-0.625,450.625],"nice":false,"zero":false},"axis":null},"y":{"field":"v","type":"quantitative","scale":{"domain":[5062.42,5116.37],"nice":false,"zero":false},"axis":{"orient":"right","title":null,"format":".2f","values":[5064.5,5066.7,5068.9,5071.1,5073.3,5075.5,5077.7,5079.9,5082.1,5084.3,5086.5,5088.7,5090.9,5093.1,5095.3,5097.5,5099.7,5101.9,5104.1,5106.3,5108.5,5110.7,5112.9,5115.1]}}}},
{"data":{"name":"mg_lo"},"mark":{"type":"line","color":"#FF00FF","strokeWidth":1,"interpolate":"monotone","clip":true},"encoding":{"x":{"field":"i","type":"quantitative","scale":{"domain":[-0.625,450.625],"nice":false,"zero":false},"axis":null},"y":{"field":"v","type":"quantitative","scale":{"domain":[5062.42,5116.37],"nice":false,"zero":false},"axis":{"orient":"right","title":null,"format":".2f","values":[5064.5,5066.7,5068.9,5071.1,5073.3,5075.5,5077.7,5079.9,5082.1,5084.3,5086.5,5088.7,5090.9,5093.1,5095.3,5097.5,5099.7,5101.9,5104.1,5106.3,5108.5,5110.7,5112.9,5115.1]}}}},
{"data":{"name":"bb_up"},"mark":{"type":"line","color":"#0000FF","strokeWidth":1,"interpolate":"monotone","clip":true},"encoding":{"x":{"field":"i","type":"quantitative","scale":{"domain":[-0.625,450.625],"nice":false,"zero":false},"axis":null},"y":{"field":"v","type":"quantitative","scale":{"domain":[5062.42,5116.37],"nice":false,"zero":false},"axis":{"orient":"right","title":null,"format":".2f","values":[5064.5,5066.7,5068.9,5071.1,5073.3,5075.5,5077.7,5079.9,5082.1,5084.3,5086.5,5088.7,5090.9,5093.1,5095.3,5097.5,5099.7,5101.9,5104.1,5106.3,5108.5,5110.7,5112.9,5115.1]}}}},
{"data":{"name":"bb_lo"},"mark":{"type":"line","color":"#0000FF","strokeWidth":1,"interpolate":"monotone","clip":true},"encoding":{"x":{"field":"i","type":"quantitative","scale":{"domain":[-0.625,450.625],"nice":false,"zero":false},"axis":null},"y":{"field":"v","type":"quantitative","scale":{"domain":[5062.42,5116.37],"nice":false,"zero":false},"axis":{"orient":"right","title":null,"format":".2f","values":[5064.5,5066.7,5068.9,5071.1,5073.3,5075.5,5077.7,5079.9,5082.1,5084.3,5086.5,5088.7,5090.9,5093.1,5095.3,5097.5,5099.7,5101.9,5104.1,5106.3,5108.5,5110.7,5112.9,5115.1]}}}},
{"data":{"name":"bb_mid"},"mark":{"type":"line","color":"#0000FF","strokeWidth":1,"interpolate":"monotone","clip":true},"encoding":{"x":{"field":"i","type":"quantitative","scale":{"domain":[-0.625,450.625],"nice":false,"zero":false},"axis":null},"y":{"field":"v","type":"quantitative","scale":{"domain":[5062.42,5116.37],"nice":false,"zero":false},"axis":{"orient":"right","title":null,"format":".2f","values":[5064.5,5066.7,5068.9,5071.1,5073.3,5075.5,5077.7,5079.9,5082.1,5084.3,5086.5,5088.7,5090.9,5093.1,5095.3,5097.5,5099.7,5101.9,5104.1,5106.3,5108.5,5110.7,5112.9,5115.1]}}}},
{"data":{"name":"brown"},"mark":{"type":"line","color":"#A0522D","strokeWidth":1,"interpolate":"monotone","clip":true},"encoding":{"x":{"field":"i","type":"quantitative","scale":{"domain":[-0.625,450.625],"nice":false,"zero":false},"axis":null},"y":{"field":"v","type":"quantitative","scale":{"domain":[5062.42,5116.37],"nice":false,"zero":false},"axis":{"orient":"right","title":null,"format":".2f","values":[5064.5,5066.7,5068.9,5071.1,5073.3,5075.5,5077.7,5079.9,5082.1,5084.3,5086.5,5088.7,5090.9,5093.1,5095.3,5097.5,5099.7,5101.9,5104.1,5106.3,5108.5,5110.7,5112.9,5115.1]}}}},
{"data":{"name":"ma_red"},"mark":{"type":"line","color":"#FF0000","strokeWidth":3,"interpolate":"monotone","clip":true},"encoding":{"x":{"field":"i","type":"quantitative","scale":{"domain":[-0.625,450.625],"nice":false,"zero":false},"axis":null},"y":{"field":"v","type":"quantitative","scale":{"domain":[5062.42,5116.37],"nice":false,"zero":false},"axis":{"orient":"right","title":null,"format":".2f","values":[5064.5,5066.7,5068.9,5071.1,5073.3,5075.5,5077.7,5079.9,5082.1,5084.3,5086.5,5088.7,5090.9,5093.1,5095.3,5097.5,5099.7,5101.9,5104.1,5106.3,5108.5,5110.7,5112.9,5115.1]}}}},
{"data":{"name":"ma_blue"},"mark":{"type":"line","color":"#0000FF","strokeWidth":3,"interpolate":"monotone","clip":true},"encoding":{"x":{"field":"i","type":"quantitative","scale":{"domain":[-0.625,450.625],"nice":false,"zero":false},"axis":null},"y":{"field":"v","type":"quantitative","scale":{"domain":[5062.42,5116.37],"nice":false,"zero":false},"axis":{"orient":"right","title":null,"format":".2f","values":[5064.5,5066.7,5068.9,5071.1,5073.3,5075.5,5077.7,5079.9,5082.1,5084.3,5086.5,5088.7,5090.9,5093.1,5095.3,5097.5,5099.7,5101.9,5104.1,5106.3,5108.5,5110.7,5112.9,5115.1]}}}},
{"data":{"name":"ma_green"},"mark":{"type":"line","color":"#228B22","strokeWidth":3,"interpolate":"monotone","clip":true},"encoding":{"x":{"field":"i","type":"quantitative","scale":{"domain":[-0.625,450.625],"nice":false,"zero":false},"axis":null},"y":{"field":"v","type":"quantitative","scale":{"domain":[5062.42,5116.37],"nice":false,"zero":false},"axis":{"orient":"right","title":null,"format":".2f","values":[5064.5,5066.7,5068.9,5071.1,5073.3,5075.5,5077.7,5079.9,5082.1,5084.3,5086.5,5088.7,5090.9,5093.1,5095.3,5097.5,5099.7,5101.9,5104.1,5106.3,5108.5,5110.7,5112.9,5115.1]}}}},
{"data":{"name":"ma_black"},"mark":{"type":"line","color":"#000000","strokeWidth":4,"interpolate":"monotone","clip":true},"encoding":{"x":{"field":"i","type":"quantitative","scale":{"domain":[-0.625,450.625],"nice":false,"zero":false},"axis":null},"y":{"field":"v","type":"quantitative","scale":{"domain":[5062.42,5116.37],"nice":false,"zero":false},"axis":{"orient":"right","title":null,"format":".2f","values":[5064.5,5066.7,5068.9,5071.1,5073.3,5075.5,5077.7,5079.9,5082.1,5084.3,5086.5,5088.7,5090.9,5093.1,5095.3,5097.5,5099.7,5101.9,5104.1,5106.3,5108.5,5110.7,5112.9,5115.1]}}}},
{"data":{"name":"obj_top"},"mark":{"type":"line","color":"#FF0000","strokeWidth":1.5},"encoding":{"x":{"field":"i","type":"quantitative","scale":{"domain":[-0.625,450.625],"nice":false,"zero":false},"axis":null},"y":{"field":"v","type":"quantitative","scale":{"domain":[5062.42,5116.37],"nice":false,"zero":false},"axis":{"orient":"right","title":null,"format":".2f","values":[5064.5,5066.7,5068.9,5071.1,5073.3,5075.5,5077.7,5079.9,5082.1,5084.3,5086.5,5088.7,5090.9,5093.1,5095.3,5097.5,5099.7,5101.9,5104.1,5106.3,5108.5,5110.7,5112.9,5115.1]}}}},
{"data":{"name":"obj_ma"},"mark":{"type":"line","color":"#FF0000","strokeWidth":3},"encoding":{"x":{"field":"i","type":"quantitative","scale":{"domain":[-0.625,450.625],"nice":false,"zero":false},"axis":null},"y":{"field":"v","type":"quantitative","scale":{"domain":[5062.42,5116.37],"nice":false,"zero":false},"axis":{"orient":"right","title":null,"format":".2f","values":[5064.5,5066.7,5068.9,5071.1,5073.3,5075.5,5077.7,5079.9,5082.1,5084.3,5086.5,5088.7,5090.9,5093.1,5095.3,5097.5,5099.7,5101.9,5104.1,5106.3,5108.5,5110.7,5112.9,5115.1]}}}},
{"data":{"name":"obj_diag"},"mark":{"type":"line","color":"#FF0000","strokeWidth":1},"encoding":{"x":{"field":"i","type":"quantitative","scale":{"domain":[-0.625,450.625],"nice":false,"zero":false},"axis":null},"y":{"field":"v","type":"quantitative","scale":{"domain":[5062.42,5116.37],"nice":false,"zero":false},"axis":{"orient":"right","title":null,"format":".2f","values":[5064.5,5066.7,5068.9,5071.1,5073.3,5075.5,5077.7,5079.9,5082.1,5084.3,5086.5,5088.7,5090.9,5093.1,5095.3,5097.5,5099.7,5101.9,5104.1,5106.3,5108.5,5110.7,5112.9,5115.1]}}}},
{"data":{"name":"obj_h"},"mark":{"type":"line","color":"#FF0000","strokeWidth":1},"encoding":{"x":{"field":"i","type":"quantitative","scale":{"domain":[-0.625,450.625],"nice":false,"zero":false},"axis":null},"y":{"field":"v","type":"quantitative","scale":{"domain":[5062.42,5116.37],"nice":false,"zero":false},"axis":{"orient":"right","title":null,"format":".2f","values":[5064.5,5066.7,5068.9,5071.1,5073.3,5075.5,5077.7,5079.9,5082.1,5084.3,5086.5,5088.7,5090.9,5093.1,5095.3,5097.5,5099.7,5101.9,5104.1,5106.3,5108.5,5110.7,5112.9,5115.1]}}}},
{"data":{"name":"cross1"},"mark":{"type":"line","color":"#FF0000","strokeWidth":1},"encoding":{"x":{"field":"i","type":"quantitative","scale":{"domain":[-0.625,450.625],"nice":false,"zero":false},"axis":null},"y":{"field":"v","type":"quantitative","scale":{"domain":[5062.42,5116.37],"nice":false,"zero":false},"axis":{"orient":"right","title":null,"format":".2f","values":[5064.5,5066.7,5068.9,5071.1,5073.3,5075.5,5077.7,5079.9,5082.1,5084.3,5086.5,5088.7,5090.9,5093.1,5095.3,5097.5,5099.7,5101.9,5104.1,5106.3,5108.5,5110.7,5112.9,5115.1]}}}},
{"data":{"name":"cross2"},"mark":{"type":"line","color":"#FF0000","strokeWidth":1},"encoding":{"x":{"field":"i","type":"quantitative","scale":{"domain":[-0.625,450.625],"nice":false,"zero":false},"axis":null},"y":{"field":"v","type":"quantitative","scale":{"domain":[5062.42,5116.37],"nice":false,"zero":false},"axis":{"orient":"right","title":null,"format":".2f","values":[5064.5,5066.7,5068.9,5071.1,5073.3,5075.5,5077.7,5079.9,5082.1,5084.3,5086.5,5088.7,5090.9,5093.1,5095.3,5097.5,5099.7,5101.9,5104.1,5106.3,5108.5,5110.7,5112.9,5115.1]}}}},
{"data":{"name":"dash1"},"mark":{"type":"line","color":"#E0502D","strokeWidth":1,"strokeDash":[3,3]},"encoding":{"x":{"field":"i","type":"quantitative","scale":{"domain":[-0.625,450.625],"nice":false,"zero":false},"axis":null},"y":{"field":"v","type":"quantitative","scale":{"domain":[5062.42,5116.37],"nice":false,"zero":false},"axis":{"orient":"right","title":null,"format":".2f","values":[5064.5,5066.7,5068.9,5071.1,5073.3,5075.5,5077.7,5079.9,5082.1,5084.3,5086.5,5088.7,5090.9,5093.1,5095.3,5097.5,5099.7,5101.9,5104.1,5106.3,5108.5,5110.7,5112.9,5115.1]}}}},
{"data":{"name":"dash2"},"mark":{"type":"line","color":"#E0502D","strokeWidth":1,"strokeDash":[3,3]},"encoding":{"x":{"field":"i","type":"quantitative","scale":{"domain":[-0.625,450.625],"nice":false,"zero":false},"axis":null},"y":{"field":"v","type":"quantitative","scale":{"domain":[5062.42,5116.37],"nice":false,"zero":false},"axis":{"orient":"right","title":null,"format":".2f","values":[5064.5,5066.7,5068.9,5071.1,5073.3,5075.5,5077.7,5079.9,5082.1,5084.3,5086.5,5088.7,5090.9,5093.1,5095.3,5097.5,5099.7,5101.9,5104.1,5106.3,5108.5,5110.7,5112.9,5115.1]}}}},
{"data":{"values":[{"i":155.6,"v":5106.0},{"i":195.75,"v":5106.3},{"i":235.75,"v":5106.45},{"i":172.75,"v":5092.35},{"i":185.25,"v":5092.5},{"i":197.75,"v":5092.65},{"i":147.75,"v":5090.25},{"i":159,"v":5088.65},{"i":170,"v":5087.2},{"i":179.5,"v":5080.3},{"i":281.6,"v":5080.3},{"i":383.4,"v":5080.3}]},"mark":{"type":"point","shape":"square","size":22,"filled":true,"fill":"#000000","stroke":"#FF0000","strokeWidth":1.2,"opacity":1},"encoding":{"x":{"field":"i","type":"quantitative","scale":{"domain":[-0.625,450.625],"nice":false,"zero":false},"axis":null},"y":{"field":"v","type":"quantitative","scale":{"domain":[5062.42,5116.37],"nice":false,"zero":false},"axis":{"orient":"right","title":null,"format":".2f","values":[5064.5,5066.7,5068.9,5071.1,5073.3,5075.5,5077.7,5079.9,5082.1,5084.3,5086.5,5088.7,5090.9,5093.1,5095.3,5097.5,5099.7,5101.9,5104.1,5106.3,5108.5,5110.7,5112.9,5115.1]}}}},
{"data":{"name":"arr_dn"},"mark":{"type":"point","shape":"M-0.5,-1L0.5,-1L0.5,0L1,0L0,1L-1,0L-0.5,0Z","size":170,"filled":true,"fill":"#E8502E","stroke":"#FFFFFF","strokeWidth":1,"opacity":1},"encoding":{"x":{"field":"i","type":"quantitative","scale":{"domain":[-0.625,450.625],"nice":false,"zero":false},"axis":null},"y":{"field":"v","type":"quantitative","scale":{"domain":[5062.42,5116.37],"nice":false,"zero":false},"axis":{"orient":"right","title":null,"format":".2f","values":[5064.5,5066.7,5068.9,5071.1,5073.3,5075.5,5077.7,5079.9,5082.1,5084.3,5086.5,5088.7,5090.9,5093.1,5095.3,5097.5,5099.7,5101.9,5104.1,5106.3,5108.5,5110.7,5112.9,5115.1]}}}},
{"data":{"name":"arr_up"},"mark":{"type":"point","shape":"M-0.5,1L0.5,1L0.5,0L1,0L0,-1L-1,0L-0.5,0Z","size":170,"filled":true,"fill":"#1E6FC0","stroke":"#FFFFFF","strokeWidth":1,"opacity":1},"encoding":{"x":{"field":"i","type":"quantitative","scale":{"domain":[-0.625,450.625],"nice":false,"zero":false},"axis":null},"y":{"field":"v","type":"quantitative","scale":{"domain":[5062.42,5116.37],"nice":false,"zero":false},"axis":{"orient":"right","title":null,"format":".2f","values":[5064.5,5066.7,5068.9,5071.1,5073.3,5075.5,5077.7,5079.9,5082.1,5084.3,5086.5,5088.7,5090.9,5093.1,5095.3,5097.5,5099.7,5101.9,5104.1,5106.3,5108.5,5110.7,5112.9,5115.1]}}}},
{"data":{"values":[{"v":5107.35}]},"mark":{"type":"rule","color":"#FF0000","strokeWidth":1},"encoding":{"y":{"field":"v","type":"quantitative","scale":{"domain":[5062.42,5116.37],"nice":false,"zero":false},"axis":{"orient":"right","title":null,"format":".2f","values":[5064.5,5066.7,5068.9,5071.1,5073.3,5075.5,5077.7,5079.9,5082.1,5084.3,5086.5,5088.7,5090.9,5093.1,5095.3,5097.5,5099.7,5101.9,5104.1,5106.3,5108.5,5110.7,5112.9,5115.1]}}}},
{"data":{"values":[{"v":5107.14},{"v":5062.42},{"v":5062.25}]},"mark":{"type":"rule","color":"#000000","strokeWidth":1},"encoding":{"y":{"field":"v","type":"quantitative","scale":{"domain":[5062.42,5116.37],"nice":false,"zero":false},"axis":{"orient":"right","title":null,"format":".2f","values":[5064.5,5066.7,5068.9,5071.1,5073.3,5075.5,5077.7,5079.9,5082.1,5084.3,5086.5,5088.7,5090.9,5093.1,5095.3,5097.5,5099.7,5101.9,5104.1,5106.3,5108.5,5110.7,5112.9,5115.1]}}}},
{"data":{"values":[{"i":281.5,"v":5116.05}]},"mark":{"type":"point","shape":"triangle-down","size":60,"filled":true,"fill":"#8C8C8C","opacity":1},"encoding":{"x":{"field":"i","type":"quantitative","scale":{"domain":[-0.625,450.625],"nice":false,"zero":false},"axis":null},"y":{"field":"v","type":"quantitative","scale":{"domain":[5062.42,5116.37],"nice":false,"zero":false},"axis":{"orient":"right","title":null,"format":".2f","values":[5064.5,5066.7,5068.9,5071.1,5073.3,5075.5,5077.7,5079.9,5082.1,5084.3,5086.5,5088.7,5090.9,5093.1,5095.3,5097.5,5099.7,5101.9,5104.1,5106.3,5108.5,5110.7,5112.9,5115.1]}}}},
{"data":{"values":[{"a":-0.625,"b":468.625,"v":5116.37}]},"mark":{"type":"rule","color":"#000000","strokeWidth":1},"encoding":{"x":{"field":"a","type":"quantitative","scale":{"domain":[-0.625,450.625],"nice":false,"zero":false},"axis":null},"x2":{"field":"b"},"y":{"field":"v","type":"quantitative","scale":{"domain":[5062.42,5116.37],"nice":false,"zero":false},"axis":{"orient":"right","title":null,"format":".2f","values":[5064.5,5066.7,5068.9,5071.1,5073.3,5075.5,5077.7,5079.9,5082.1,5084.3,5086.5,5088.7,5090.9,5093.1,5095.3,5097.5,5099.7,5101.9,5104.1,5106.3,5108.5,5110.7,5112.9,5115.1]}}}},
{"data":{"values":[{"a":-0.625,"b":468.625,"v":5116.57}]},"mark":{"type":"rule","color":"#7A7A7A","strokeWidth":2},"encoding":{"x":{"field":"a","type":"quantitative","scale":{"domain":[-0.625,450.625],"nice":false,"zero":false},"axis":null},"x2":{"field":"b"},"y":{"field":"v","type":"quantitative","scale":{"domain":[5062.42,5116.37],"nice":false,"zero":false},"axis":{"orient":"right","title":null,"format":".2f","values":[5064.5,5066.7,5068.9,5071.1,5073.3,5075.5,5077.7,5079.9,5082.1,5084.3,5086.5,5088.7,5090.9,5093.1,5095.3,5097.5,5099.7,5101.9,5104.1,5106.3,5108.5,5110.7,5112.9,5115.1]}}}},
{"data":{"values":[{"a":451.5,"b":465,"v":5107.75,"w":5107.95}]},"mark":{"type":"rect","color":"#FF0000"},"encoding":{"x":{"field":"a","type":"quantitative","scale":{"domain":[-0.625,450.625],"nice":false,"zero":false},"axis":null},"x2":{"field":"b"},"y":{"field":"v","type":"quantitative","scale":{"domain":[5062.42,5116.37],"nice":false,"zero":false},"axis":{"orient":"right","title":null,"format":".2f","values":[5064.5,5066.7,5068.9,5071.1,5073.3,5075.5,5077.7,5079.9,5082.1,5084.3,5086.5,5088.7,5090.9,5093.1,5095.3,5097.5,5099.7,5101.9,5104.1,5106.3,5108.5,5110.7,5112.9,5115.1]}},"y2":{"field":"w"}}},
{"data":{"values":[{"a":451.5,"b":465,"v":5106.8,"w":5107.75}]},"mark":{"type":"rect","color":"#000000"},"encoding":{"x":{"field":"a","type":"quantitative","scale":{"domain":[-0.625,450.625],"nice":false,"zero":false},"axis":null},"x2":{"field":"b"},"y":{"field":"v","type":"quantitative","scale":{"domain":[5062.42,5116.37],"nice":false,"zero":false},"axis":{"orient":"right","title":null,"format":".2f","values":[5064.5,5066.7,5068.9,5071.1,5073.3,5075.5,5077.7,5079.9,5082.1,5084.3,5086.5,5088.7,5090.9,5093.1,5095.3,5097.5,5099.7,5101.9,5104.1,5106.3,5108.5,5110.7,5112.9,5115.1]}},"y2":{"field":"w"}}},
{"data":{"values":[{"a":-0.625,"b":0.9,"v":5115.08,"w":5115.76},{"a":1.15,"b":2.45,"v":5115.08,"w":5115.96}]},"mark":{"type":"rect","fill":"#C8D8EC","stroke":"#3A64B0","strokeWidth":1},"encoding":{"x":{"field":"a","type":"quantitative","scale":{"domain":[-0.625,450.625],"nice":false,"zero":false},"axis":null},"x2":{"field":"b"},"y":{"field":"v","type":"quantitative","scale":{"domain":[5062.42,5116.37],"nice":false,"zero":false},"axis":{"orient":"right","title":null,"format":".2f","values":[5064.5,5066.7,5068.9,5071.1,5073.3,5075.5,5077.7,5079.9,5082.1,5084.3,5086.5,5088.7,5090.9,5093.1,5095.3,5097.5,5099.7,5101.9,5104.1,5106.3,5108.5,5110.7,5112.9,5115.1]}},"y2":{"field":"w"}}},
{"data":{"values":[{"i":452.4,"v":5107.27,"t":"5107.14"}]},"mark":{"type":"text","font":"DejaVu Sans","fontSize":11,"color":"#FFFFFF","align":"left","baseline":"middle"},"encoding":{"x":{"field":"i","type":"quantitative","scale":{"domain":[-0.625,450.625],"nice":false,"zero":false},"axis":null},"y":{"field":"v","type":"quantitative","scale":{"domain":[5062.42,5116.37],"nice":false,"zero":false},"axis":{"orient":"right","title":null,"format":".2f","values":[5064.5,5066.7,5068.9,5071.1,5073.3,5075.5,5077.7,5079.9,5082.1,5084.3,5086.5,5088.7,5090.9,5093.1,5095.3,5097.5,5099.7,5101.9,5104.1,5106.3,5108.5,5110.7,5112.9,5115.1]}},"text":{"field":"t"}}},
{"data":{"values":[{"i":4.55,"v":5115.42,"t":"US500, M1:  US 500 Index Cash"}]},"mark":{"type":"text","font":"DejaVu Sans","fontSize":11,"color":"#000000","align":"left","baseline":"middle"},"encoding":{"x":{"field":"i","type":"quantitative","scale":{"domain":[-0.625,450.625],"nice":false,"zero":false},"axis":null},"y":{"field":"v","type":"quantitative","scale":{"domain":[5062.42,5116.37],"nice":false,"zero":false},"axis":{"orient":"right","title":null,"format":".2f","values":[5064.5,5066.7,5068.9,5071.1,5073.3,5075.5,5077.7,5079.9,5082.1,5084.3,5086.5,5088.7,5090.9,5093.1,5095.3,5097.5,5099.7,5101.9,5104.1,5106.3,5108.5,5110.7,5112.9,5115.1]}},"text":{"field":"t"}}},
{"data":{"values":[{"i":449.3,"v":5115.62,"t":"Spread: 21. Next Bar in 00:06"}]},"mark":{"type":"text","font":"Liberation Mono","fontSize":15,"color":"#707070","align":"right","baseline":"middle"},"encoding":{"x":{"field":"i","type":"quantitative","scale":{"domain":[-0.625,450.625],"nice":false,"zero":false},"axis":null},"y":{"field":"v","type":"quantitative","scale":{"domain":[5062.42,5116.37],"nice":false,"zero":false},"axis":{"orient":"right","title":null,"format":".2f","values":[5064.5,5066.7,5068.9,5071.1,5073.3,5075.5,5077.7,5079.9,5082.1,5084.3,5086.5,5088.7,5090.9,5093.1,5095.3,5097.5,5099.7,5101.9,5104.1,5106.3,5108.5,5110.7,5112.9,5115.1]}},"text":{"field":"t"}}},
{"data":{"values":[{"i":-0.875,"v":5107.42,"t":"5 at 5107.42"},{"i":-1.375,"v":5105.39,"t":"0.75 at 5105.39"},{"i":-1.375,"v":5104.42,"t":"0.5 at 5104.42"}]},"mark":{"type":"text","font":"DejaVu Sans","fontSize":11,"color":"#000000","align":"left","baseline":"alphabetic","dy":-3},"encoding":{"x":{"field":"i","type":"quantitative","scale":{"domain":[-0.625,450.625],"nice":false,"zero":false},"axis":null},"y":{"field":"v","type":"quantitative","scale":{"domain":[5062.42,5116.37],"nice":false,"zero":false},"axis":{"orient":"right","title":null,"format":".2f","values":[5064.5,5066.7,5068.9,5071.1,5073.3,5075.5,5077.7,5079.9,5082.1,5084.3,5086.5,5088.7,5090.9,5093.1,5095.3,5097.5,5099.7,5101.9,5104.1,5106.3,5108.5,5110.7,5112.9,5115.1]}},"text":{"field":"t"}}}
]
}
